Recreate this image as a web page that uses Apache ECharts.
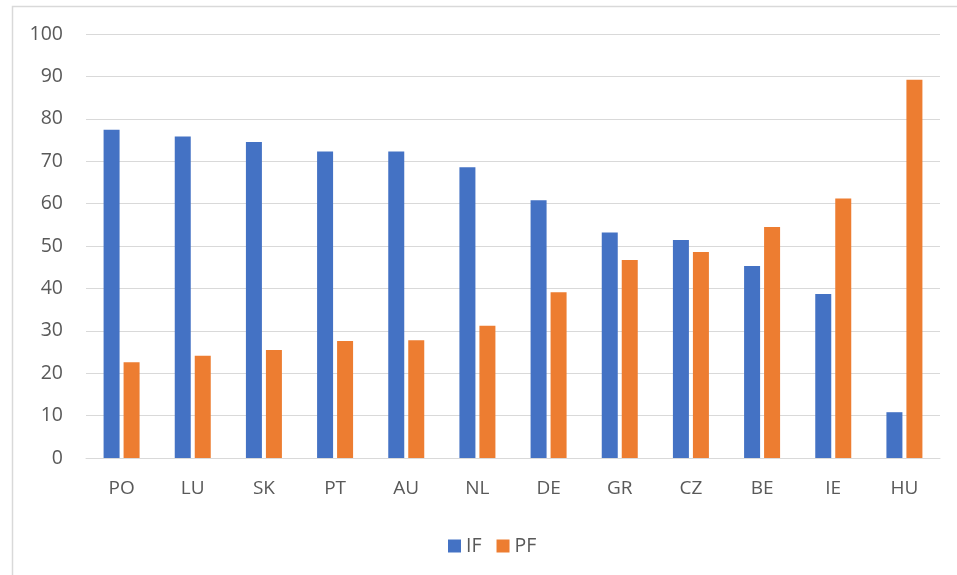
<!DOCTYPE html>
<html>
<head>
<meta charset="utf-8">
<script src="https://cdn.jsdelivr.net/npm/echarts@6/dist/echarts.min.js"></script>
<style>html,body{margin:0;padding:0;background:#fff}#c{width:957px;height:575px}</style>
</head>
<body>
<div id="c"></div>
<script>
const categories = ['PO','LU','SK','PT','AU','NL','DE','GR','CZ','BE','IE','HU'];
const ifValues = [77.4, 75.8, 74.5, 72.3, 72.3, 68.6, 60.8, 53.2, 51.4, 45.3, 38.7, 10.8];
const pfValues = [22.6, 24.1, 25.5, 27.6, 27.8, 31.2, 39.1, 46.7, 48.6, 54.5, 61.2, 89.2];
const yTicks = [0, 10, 20, 30, 40, 50, 60, 70, 80, 90, 100];

const chart = echarts.init(document.getElementById('c'), null, {renderer: 'canvas'});
const font = '"Open Sans", sans-serif';
chart.setOption({
  animation: false,
  backgroundColor: '#fff',
  graphic: [{
    type: 'rect', left: 10, top: 4,
    shape: {width: 980, height: 620},
    style: {fill: 'none', stroke: '#d9d9d9', lineWidth: 1.5}
  }],
  grid: {left: 86, right: 17, top: 34, bottom: 117, containLabel: false},
  legend: {
    data: ['IF', 'PF'], top: 531, left: 443,
    itemWidth: 13, itemHeight: 13, itemGap: 15,
    icon: 'rect',
    textStyle: {color: '#595959', fontSize: 19.5, fontFamily: font}
  },
  xAxis: {
    type: 'category', data: categories,
    axisLine: {lineStyle: {color: '#d9d9d9', width: 1}},
    axisTick: {show: false},
    axisLabel: {color: '#595959', fontSize: 19, fontFamily: font, margin: 21}
  },
  yAxis: {
    type: 'value', min: yTicks[0], max: yTicks[yTicks.length - 1], interval: 10,
    axisLine: {show: false}, axisTick: {show: false},
    axisLabel: {color: '#595959', fontSize: 19.5, fontFamily: font, margin: 23},
    splitLine: {lineStyle: {color: '#d9d9d9', width: 1}}
  },
  series: [
    {name: 'IF', type: 'bar', data: ifValues, barWidth: 16, barGap: '25%',
     itemStyle: {color: '#4472C4'}},
    {name: 'PF', type: 'bar', data: pfValues, barWidth: 16,
     itemStyle: {color: '#ED7D31'}}
  ]
});
</script>
</body>
</html>
